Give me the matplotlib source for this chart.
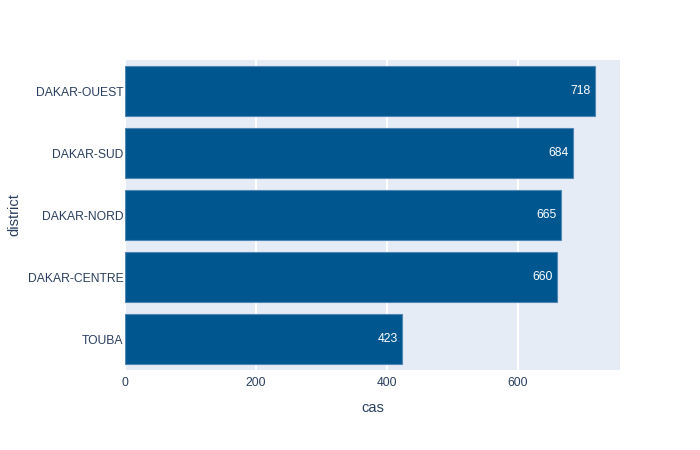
import matplotlib.pyplot as plt

districts = ["DAKAR-OUEST", "DAKAR-SUD", "DAKAR-NORD", "DAKAR-CENTRE", "TOUBA"]
cas = [718, 684, 665, 660, 423]
xticks = [0, 200, 400, 600]

plt.rcParams['font.family'] = ['Liberation Sans', 'DejaVu Sans']

fig = plt.figure(figsize=(7, 4.5), dpi=100)
ax = fig.add_axes([125/700, 1 - 370/450, 495/700, 310/450])
ax.set_facecolor('#e5ecf6')

ypos = list(range(len(districts)))[::-1]
bars = ax.barh(ypos, cas, height=0.8, color='#00578f', edgecolor='#4f86b3', linewidth=0.8, zorder=3)

for b, v in zip(bars, cas):
    ax.annotate(str(v), (b.get_width(), b.get_y() + b.get_height() / 2),
                xytext=(-3, 0), textcoords='offset points', ha='right', va='center',
                color='white', fontsize=8.7, zorder=4)

ax.set_xlim(0, max(cas) * 1.0526)
ax.set_ylim(-0.5, len(districts) - 0.5)
ax.set_xticks(xticks)
ax.set_yticks(ypos)
ax.set_yticklabels(districts)
ax.grid(axis='x', color='white', linewidth=1.5, zorder=0)
ax.set_axisbelow(True)
for s in ax.spines.values():
    s.set_visible(False)
ax.tick_params(axis='both', length=0, labelsize=8.7, labelcolor='#2a3f5f')
ax.tick_params(axis='y', pad=1)
ax.tick_params(axis='x', pad=5)
ax.set_xlabel('cas', fontsize=10.5, color='#2a3f5f', labelpad=9)
ax.set_ylabel('district', fontsize=10.5, color='#2a3f5f', labelpad=5)

fig.savefig('out.png', dpi=100)
